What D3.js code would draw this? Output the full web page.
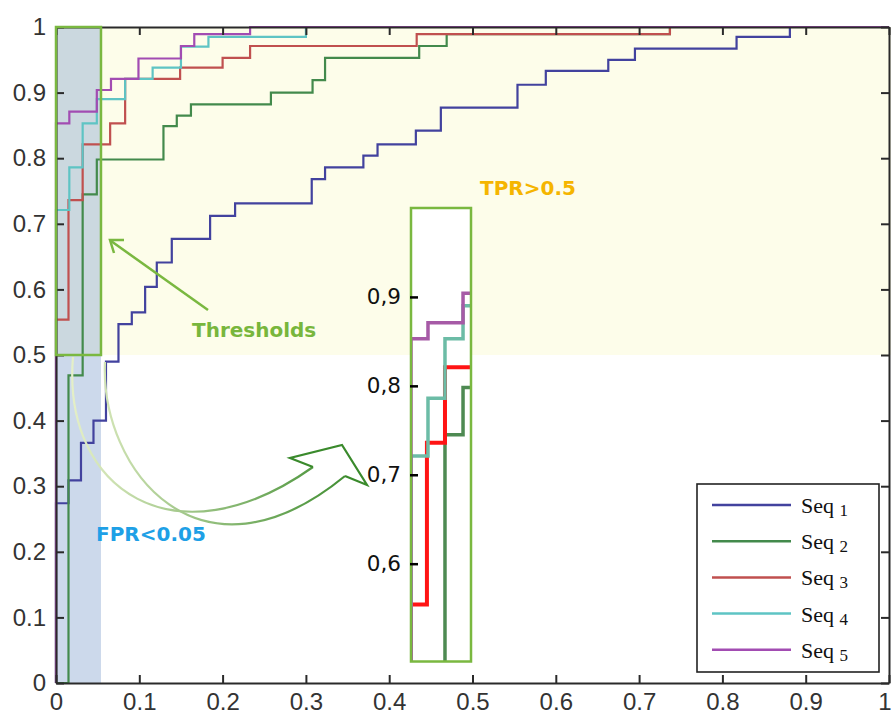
<!DOCTYPE html>
<html>
<head>
<meta charset="utf-8">
<script src="https://cdn.jsdelivr.net/npm/d3@7"></script>
<style>
  body { margin: 0; background: #fff; }
  svg { display: block; }
</style>
</head>
<body>
<div id="chart"></div>
<script>
// ROC step points: [fpr, tpr] at each jump
const seq1 = [[0,0],[0,0.274],[0.015,0.309],[0.030,0.366],[0.045,0.400],[0.060,0.490],[0.075,0.547],
  [0.091,0.565],[0.107,0.604],[0.121,0.641],[0.139,0.677],[0.185,0.712],[0.215,0.731],[0.307,0.768],
  [0.323,0.786],[0.369,0.804],[0.386,0.821],[0.432,0.842],[0.462,0.877],[0.554,0.912],[0.588,0.933],
  [0.663,0.950],[0.695,0.967],[0.817,0.985],[0.881,1],[1,1]];
const seq2 = [[0,0],[0.015,0.469],[0.032,0.745],[0.049,0.798],[0.129,0.849],[0.145,0.865],[0.162,0.882],
  [0.258,0.900],[0.308,0.919],[0.323,0.953],[0.436,0.971],[0.469,0.989],[0.737,1],[1,1]];
const seq3 = [[0,0],[0,0.554],[0.015,0.736],[0.032,0.821],[0.065,0.853],[0.083,0.921],[0.149,0.938],
  [0.200,0.953],[0.233,0.971],[0.433,0.989],[0.737,1],[1,1]];
const seq4 = [[0,0],[0,0.721],[0.016,0.786],[0.032,0.853],[0.049,0.890],[0.083,0.921],[0.116,0.938],
  [0.150,0.970],[0.183,0.985],[0.300,1],[1,1]];
const seq5 = [[0,0],[0,0.853],[0.016,0.871],[0.049,0.904],[0.066,0.921],[0.099,0.952],[0.150,0.971],
  [0.166,0.989],[0.233,1],[1,1]];

const seriesNames = ["Seq 1", "Seq 2", "Seq 3", "Seq 4", "Seq 5"];
const seriesData = [seq1, seq2, seq3, seq4, seq5];
const seriesColors = ["#42429e", "#438a4c", "#c0504f", "#5ec4c4", "#a24cb2"];
const insetColors = [null, "#4e8a52", "#ff1414", "#6cbca6", "#a65aa6"];

const xTicks = [0, 0.1, 0.2, 0.3, 0.4, 0.5, 0.6, 0.7, 0.8, 0.9, 1];
const yTicks = [0, 0.1, 0.2, 0.3, 0.4, 0.5, 0.6, 0.7, 0.8, 0.9, 1];
const insetTicks = [0.6, 0.7, 0.8, 0.9];
const fprLimit = 0.054, tprLimit = 0.5;

const width = 891, height = 716;
const plotLeft = 56, plotRight = 889, plotTop = 27, plotBottom = 683;

const svg = d3.select("#chart").append("svg")
    .attr("width", width)
    .attr("height", height);

const x = d3.scaleLinear().domain([0, 1]).range([plotLeft, plotRight]);
const y = d3.scaleLinear().domain([0, 1]).range([plotBottom, plotTop]);

const defs = svg.append("defs");
const grad = defs.append("linearGradient")
    .attr("id", "arrowGrad")
    .attr("gradientUnits", "userSpaceOnUse")
    .attr("x1", 70).attr("y1", 0).attr("x2", 360).attr("y2", 0);
grad.append("stop").attr("offset", "0%").attr("stop-color", "#e6f0c8");
grad.append("stop").attr("offset", "100%").attr("stop-color", "#3a8a2c");

// TPR>0.5 region
svg.append("rect")
    .attr("x", x(0)).attr("y", y(1))
    .attr("width", width - x(0)).attr("height", y(tprLimit) - y(1))
    .attr("fill", "#fdfdea");

// FPR<0.05 band
svg.append("rect")
    .attr("x", x(0)).attr("y", y(1))
    .attr("width", x(fprLimit) - x(0)).attr("height", y(0) - y(1))
    .attr("fill", "#8eaad3")
    .attr("fill-opacity", 0.45);

const line = d3.line()
    .x(d => x(d[0]))
    .y(d => y(d[1]))
    .curve(d3.curveStepAfter);

svg.append("g").selectAll("path")
    .data(seriesData)
    .join("path")
    .attr("d", line)
    .attr("fill", "none")
    .attr("stroke", (d, i) => seriesColors[i])
    .attr("stroke-width", 2.2);

// axes, MATLAB-style box with inward ticks
const fmt = d3.format("~g");
function styleAxis(g) {
    g.selectAll(".domain").attr("stroke", "#2a2a2a").attr("stroke-width", 2);
    g.selectAll(".tick line").attr("stroke", "#2a2a2a").attr("stroke-width", 2);
    g.selectAll(".tick text").attr("fill", "#333")
        .style("font-family", "'Liberation Sans', Arial, sans-serif")
        .style("font-size", "24px");
}
const xAxisG = svg.append("g")
    .attr("transform", `translate(0,${plotBottom})`)
    .call(d3.axisBottom(x).tickValues(xTicks).tickFormat(fmt).tickSizeInner(-8).tickSizeOuter(0).tickPadding(10))
    .call(styleAxis);
// last label sits at the window edge: keep it inside
xAxisG.selectAll(".tick text").filter(d => d === 1)
    .attr("text-anchor", "end").attr("x", 2);

svg.append("g")
    .attr("transform", `translate(${plotLeft},0)`)
    .call(d3.axisLeft(y).tickValues(yTicks).tickFormat(fmt).tickSizeInner(-8).tickSizeOuter(0).tickPadding(10))
    .call(styleAxis);
svg.append("g")
    .attr("transform", `translate(0,${plotTop})`)
    .call(d3.axisTop(x).tickValues(xTicks).tickFormat("").tickSizeInner(-8).tickSizeOuter(0))
    .call(styleAxis);
svg.append("g")
    .attr("transform", `translate(${plotRight},0)`)
    .call(d3.axisRight(y).tickValues(yTicks).tickFormat("").tickSizeInner(-8).tickSizeOuter(0))
    .call(styleAxis);

// thresholds box
svg.append("rect")
    .attr("x", x(0)).attr("y", y(1))
    .attr("width", x(fprLimit) - x(0)).attr("height", y(tprLimit) - y(1))
    .attr("fill", "none")
    .attr("stroke", "#7ab840")
    .attr("stroke-width", 2.5);

// "Thresholds" pointer
svg.append("line")
    .attr("x1", 208).attr("y1", 310).attr("x2", 111).attr("y2", 241)
    .attr("stroke", "#7ab840").attr("stroke-width", 2.5);
svg.append("path")
    .attr("d", "M124,240 L110,240 L114,253")
    .attr("fill", "none").attr("stroke", "#7ab840").attr("stroke-width", 2.5);

// curved block arrow towards inset
svg.append("path")
    .attr("d", "M73,357 C62,490 175,565 313,467")
    .attr("fill", "none").attr("stroke", "url(#arrowGrad)").attr("stroke-width", 2.2);
svg.append("path")
    .attr("d", "M105,362 C100,470 200,595 345,476")
    .attr("fill", "none").attr("stroke", "url(#arrowGrad)").attr("stroke-width", 2.2);
svg.append("path")
    .attr("d", "M313,467 L290,458 L342,445 L367,485 L345,476")
    .attr("fill", "none").attr("stroke", "#3a8a2c").attr("stroke-width", 2.2)
    .attr("stroke-linejoin", "miter");

// labels
const labelFont = "'DejaVu Sans', Verdana, sans-serif";
svg.append("text").attr("x", 192).attr("y", 337).text("Thresholds")
    .attr("fill", "#78b63c").style("font-family", labelFont).style("font-weight", "bold").style("font-size", "20px");
svg.append("text").attr("x", 480).attr("y", 195).text("TPR>0.5")
    .attr("fill", "#f5b500").style("font-family", labelFont).style("font-weight", "bold").style("font-size", "20px");
svg.append("text").attr("x", 96).attr("y", 541).text("FPR<0.05")
    .attr("fill", "#1ea0e6").style("font-family", labelFont).style("font-weight", "bold").style("font-size", "20px");

// zoomed inset of the threshold box
const ix = d3.scaleLinear().domain([0, 0.0565]).range([411, 471]);
const iy = d3.scaleLinear().domain([0.49, 1.0]).range([661.5, 208]);

defs.append("clipPath").attr("id", "insetClip")
    .append("rect")
    .attr("x", ix(0)).attr("y", iy(1))
    .attr("width", ix(0.0565) - ix(0)).attr("height", iy(0.49) - iy(1));

svg.append("rect")
    .attr("x", ix(0)).attr("y", iy(1))
    .attr("width", ix(0.0565) - ix(0)).attr("height", iy(0.49) - iy(1))
    .attr("fill", "#fff");

const insetLine = d3.line()
    .x(d => ix(d[0]))
    .y(d => iy(d[1]))
    .curve(d3.curveStepAfter);

svg.append("g").attr("clip-path", "url(#insetClip)")
    .selectAll("path")
    .data(seriesData.slice(1))
    .join("path")
    .attr("d", insetLine)
    .attr("fill", "none")
    .attr("stroke", (d, i) => insetColors[i + 1])
    .attr("stroke-width", (d, i) => i === 1 ? 4 : 3.5);

svg.append("rect")
    .attr("x", ix(0)).attr("y", iy(1))
    .attr("width", ix(0.0565) - ix(0)).attr("height", iy(0.49) - iy(1))
    .attr("fill", "none")
    .attr("stroke", "#7ab840")
    .attr("stroke-width", 2.5);

const insetAxis = svg.append("g")
    .attr("transform", `translate(${ix(0) - 1},0)`)
    .call(d3.axisLeft(iy).tickValues(insetTicks)
        .tickFormat(d => d3.format(".1f")(d).replace(".", ","))
        .tickSizeInner(-8).tickSizeOuter(0).tickPadding(9));
insetAxis.select(".domain").remove();
insetAxis.selectAll(".tick line").attr("stroke", "#000").attr("stroke-width", 2.5);
insetAxis.selectAll(".tick text").attr("fill", "#111")
    .style("font-family", labelFont).style("font-size", "21.5px");

// legend
const lg = svg.append("g");
lg.append("rect")
    .attr("x", 697).attr("y", 484).attr("width", 182).attr("height", 188)
    .attr("fill", "#fff").attr("stroke", "#222").attr("stroke-width", 1.6);
const rows = lg.selectAll("g.row")
    .data(seriesNames)
    .join("g")
    .attr("class", "row")
    .attr("transform", (d, i) => `translate(0,${505 + i * 36.2})`);
rows.append("line")
    .attr("x1", 712).attr("x2", 791)
    .attr("stroke", (d, i) => seriesColors[i])
    .attr("stroke-width", 2.5);
const lt = rows.append("text")
    .attr("x", 801).attr("y", 8)
    .attr("fill", "#111")
    .style("font-family", "'Liberation Serif', 'Times New Roman', serif")
    .style("font-size", "22px");
lt.append("tspan").text(d => d.split(" ")[0] + " ");
lt.append("tspan").attr("dy", 3).style("font-size", "17px").text(d => d.split(" ")[1]);
</script>
</body>
</html>
